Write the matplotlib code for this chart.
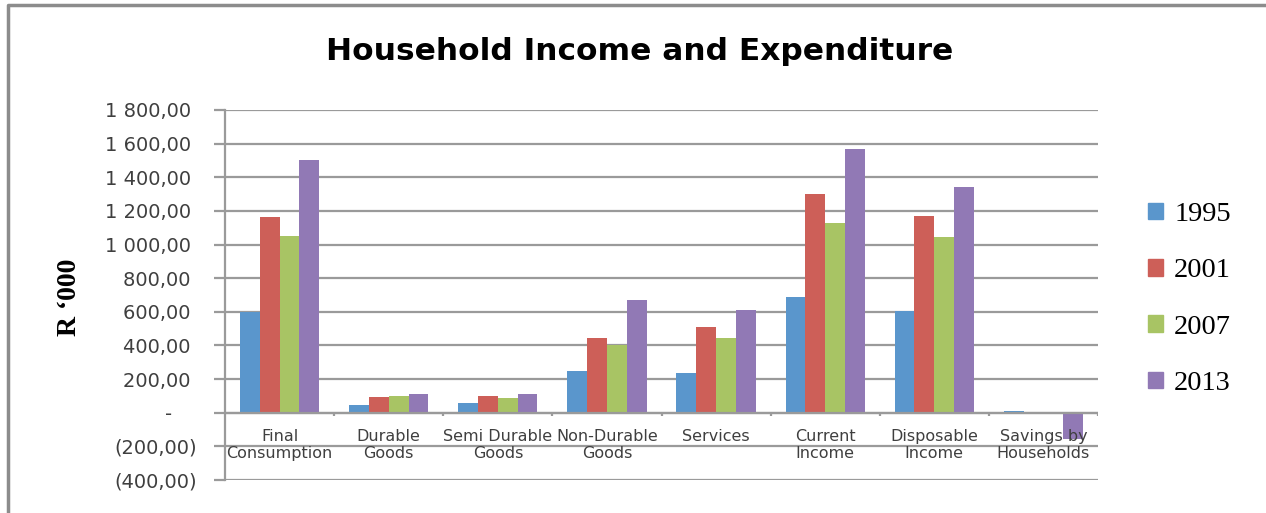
import matplotlib
matplotlib.use("Agg")
import matplotlib.pyplot as plt
from matplotlib.lines import Line2D
import numpy as np

# Household accounts (R '000)
categories = ["Final\nConsumption", "Durable\nGoods", "Semi Durable\nGoods",
              "Non-Durable\nGoods", "Services", "Current\nIncome",
              "Disposable\nIncome", "Savings by\nHouseholds"]
years = ["1995", "2001", "2007", "2013"]
v1995 = [598, 43, 57, 247, 237, 686, 602, 8]
v2001 = [1162, 96, 102, 444, 511, 1302, 1172, -2]
v2007 = [1049, 102, 89, 402, 444, 1128, 1043, -6]
v2013 = [1505, 112, 110, 671, 611, 1566, 1345, -155]
series = [v1995, v2001, v2007, v2013]
colors = ["#5A96CC", "#CD5F58", "#A8C464", "#9179B5"]

yticks = [-400, -200, 0, 200, 400, 600, 800, 1000, 1200, 1400, 1600, 1800]


def fmt(v):
    if v == 0:
        return "-\u2007\u2007"
    s = f"{abs(v):,.2f}".replace(",", " ").replace(".", ",")
    return f"({s})" if v < 0 else s + "\u2008"


W, H = 1266, 513
fig = plt.figure(figsize=(W / 100, H / 100), dpi=100)
fig.patch.set_facecolor("white")

ax = fig.add_axes([225 / W, 1 - 480 / H, (1098 - 225) / W, (480 - 110) / H])
ax.set_xlim(-0.5, len(categories) - 0.5)
ax.set_ylim(-400, 1800)

grid_c = "#9A9A9A"
ax.set_yticks(yticks)
ax.set_yticklabels([fmt(v) for v in yticks])
ax.yaxis.grid(True, color=grid_c, linewidth=1.6)
ax.set_axisbelow(True)
for s in ["top", "right", "bottom"]:
    ax.spines[s].set_visible(False)
ax.spines["left"].set_color(grid_c)
ax.spines["left"].set_linewidth(1.6)
ax.tick_params(axis="y", direction="out", length=8, width=1.6, color=grid_c,
               labelsize=14, labelcolor="#3F3F3F", pad=12)

# Excel-style clustered columns, gap width 150%
x = np.arange(len(categories))
bw = 1 / 5.5
for i, (vals, c, lab) in enumerate(zip(series, colors, years)):
    ax.bar(x + (i - 1.5) * bw, vals, width=bw, color=c, label=lab,
           edgecolor="none", zorder=3)

# category axis drawn along the zero line
ax.axhline(0, color=grid_c, linewidth=1.6, zorder=4)
ax.set_xticks([])
bounds = np.arange(len(categories) + 1) - 0.5
ax.vlines(bounds[1:], 0, -22, color=grid_c, linewidth=1.6, zorder=4)
for xi, name in zip(x, categories):
    ax.text(xi, -95, name, ha="center", va="top", fontsize=11.5,
            color="#3F3F3F", linespacing=1.22, zorder=5)

ax.set_ylabel("R \u2018000", family="Liberation Serif", fontweight="bold",
              fontsize=20)
ax.yaxis.set_label_coords(-0.164, 0.495)

fig.text(640 / W, 1 - 52 / H, "Household Income and Expenditure",
         ha="center", va="center", fontsize=22.5, fontweight="bold")

handles = [plt.Rectangle((0, 0), 1, 1, color=c) for c in colors]
fig.legend(handles, years, loc="center left",
           bbox_to_anchor=(1148 / W, 1 - 299 / H), frameon=False,
           borderpad=0, borderaxespad=0,
           prop={"family": "Liberation Serif", "size": 20.5},
           handlelength=0.52, handleheight=0.52, handletextpad=0.4,
           labelspacing=1.1)

# outer chart frame
fig.add_artist(Line2D([8 / W, 8 / W, 1], [0, 1 - 5 / H, 1 - 5 / H],
                      transform=fig.transFigure, color="#8C8C8C",
                      linewidth=2.5))

fig.savefig("out.png", dpi=100)
